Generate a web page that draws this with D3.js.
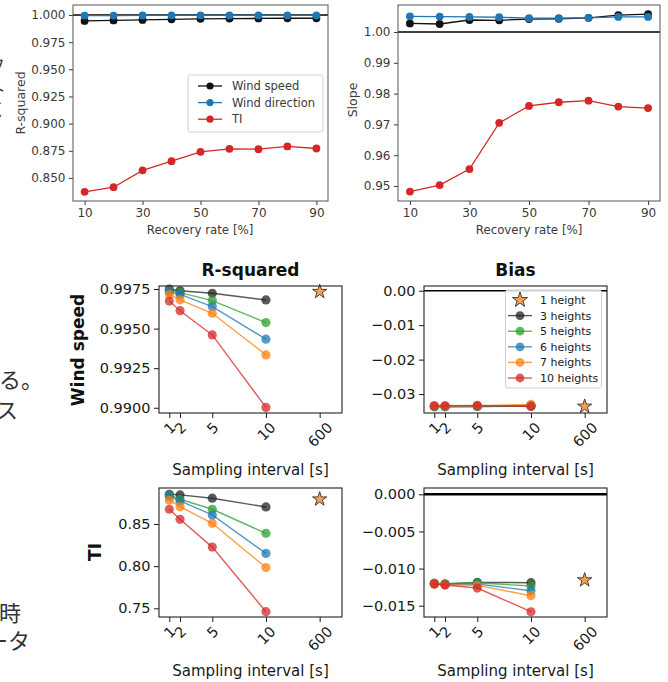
<!DOCTYPE html>
<html>
<head>
<meta charset="utf-8">
<script src="https://cdn.jsdelivr.net/npm/d3@7"></script>
<style>
  body { margin: 0; background: #fff; }
  text { font-family: "DejaVu Sans", sans-serif; }
  .jp { font-family: "Noto Sans CJK JP", sans-serif; fill: #333; }
</style>
</head>
<body>
<svg id="chart" width="668" height="682"></svg>
<script>
// ---- values ----
const recovery = [10, 20, 30, 40, 50, 60, 70, 80, 90];
const recoveryTicks = [10, 30, 50, 70, 90];

const r2WindSpeed = [0.9945, 0.9950, 0.9955, 0.9960, 0.9965, 0.9967, 0.9968, 0.9970, 0.9970];
const r2WindDir   = [0.9995, 0.9995, 0.9996, 0.9996, 0.9996, 0.9996, 0.9996, 0.9996, 0.9996];
const r2TI        = [0.8372, 0.8415, 0.8570, 0.8655, 0.8741, 0.8768, 0.8765, 0.8790, 0.8771];
const r2Ticks = [0.850, 0.875, 0.900, 0.925, 0.950, 0.975, 1.000];

const slopeWindSpeed = [1.0028, 1.0026, 1.0039, 1.0038, 1.0042, 1.0043, 1.0046, 1.0055, 1.0058];
const slopeWindDir   = [1.0051, 1.0050, 1.0049, 1.0048, 1.0045, 1.0045, 1.0046, 1.0049, 1.0049];
const slopeTI        = [0.9482, 0.9503, 0.9555, 0.9705, 0.9760, 0.9772, 0.9777, 0.9758, 0.9753];
const slopeTicks = [0.95, 0.96, 0.97, 0.98, 0.99, 1.00];

const topNames = ["Wind speed", "Wind direction", "TI"];

// sampling interval panels: 600 s is drawn at slot 15
const intervals = [1, 2, 5, 10];
const intervalTickPos = [1, 2, 5, 10, 15];
const intervalTickLabels = ["1", "2", "5", "10", "600"];
const oneHeightPos = 15;
const heightNames = ["3 heights", "5 heights", "6 heights", "7 heights", "10 heights"];

const wsR2 = [
  [0.99750, 0.99739, 0.99723, 0.99681],
  [0.99744, 0.99727, 0.99677, 0.99538],
  [0.99733, 0.99716, 0.99639, 0.99433],
  [0.99716, 0.99682, 0.99597, 0.99334],
  [0.99674, 0.99613, 0.99460, 0.99002]
];
const wsR2One = 0.99733;
const wsR2Ticks = [0.9900, 0.9925, 0.9950, 0.9975];

const wsBias = [
  [-0.0336, -0.0336, -0.0336, -0.0335],
  [-0.0337, -0.0337, -0.0336, -0.0334],
  [-0.0336, -0.0336, -0.0335, -0.0333],
  [-0.0335, -0.0335, -0.0334, -0.0330],
  [-0.0334, -0.0334, -0.0333, -0.0336]
];
const wsBiasOne = -0.0336;
const wsBiasTicks = [-0.03, -0.02, -0.01, 0.00];

const tiR2 = [
  [0.8853, 0.8845, 0.8806, 0.8702],
  [0.8841, 0.8794, 0.8675, 0.8389],
  [0.8825, 0.8774, 0.8607, 0.8151],
  [0.8782, 0.8706, 0.8508, 0.7984],
  [0.8675, 0.8556, 0.8226, 0.7460]
];
const tiR2One = 0.8794;
const tiR2Ticks = [0.75, 0.80, 0.85];

const tiBias = [
  [-0.01200, -0.01208, -0.01186, -0.01190],
  [-0.01200, -0.01204, -0.01190, -0.01235],
  [-0.01204, -0.01213, -0.01208, -0.01298],
  [-0.01208, -0.01217, -0.01226, -0.01366],
  [-0.01208, -0.01222, -0.01262, -0.01581]
];
const tiBiasOne = -0.01155;
const tiBiasTicks = [-0.015, -0.010, -0.005, 0.000];

// ---- styles ----
const topColors = ["#111", "#1f77b4", "#d62728"];
const heightColors = ["#222", "#2ca02c", "#1f77b4", "#ff7f0e", "#d62728"];
const minus = s => s.replace("-", "\u2212");

const svg = d3.select("#chart");

function makeAxes(r, xd, yd) {
  const x = d3.scaleLinear().domain(xd).range([r.l, r.r]);
  const y = d3.scaleLinear().domain(yd).range([r.b, r.t]);
  const g = svg.append("g");
  return { x, y, r, g };
}

function frame(ax, color, w) {
  ax.g.append("rect")
    .attr("x", ax.r.l).attr("y", ax.r.t)
    .attr("width", ax.r.r - ax.r.l).attr("height", ax.r.b - ax.r.t)
    .attr("fill", "none").attr("stroke", color).attr("stroke-width", w);
}

function hline(ax, v, w) {
  ax.g.append("line")
    .attr("x1", ax.r.l).attr("x2", ax.r.r)
    .attr("y1", ax.y(v)).attr("y2", ax.y(v))
    .attr("stroke", "#000").attr("stroke-width", w);
}

function series(ax, xs, ys, color, rad, lw, alpha) {
  const line = d3.line().x((d, i) => ax.x(xs[i])).y(d => ax.y(d));
  ax.g.append("path").datum(ys).attr("d", line)
    .attr("fill", "none").attr("stroke", color)
    .attr("stroke-width", lw).attr("stroke-opacity", alpha);
  ax.g.selectAll(null).data(ys).join("circle")
    .attr("cx", (d, i) => ax.x(xs[i])).attr("cy", d => ax.y(d))
    .attr("r", rad).attr("fill", color).attr("fill-opacity", alpha);
}

function star(g, cx, cy, R) {
  g.append("path")
    .attr("d", d3.symbol(d3.symbolStar, R * R / 0.8908130915292852)())
    .attr("transform", `translate(${cx},${cy})`)
    .attr("fill", "#f7a050").attr("stroke", "#333").attr("stroke-width", 0.9);
}

function yAxis(ax, ticks, fmt, fs, color, ts) {
  const a = ax.g.append("g").attr("transform", `translate(${ax.r.l},0)`)
    .call(d3.axisLeft(ax.y).tickValues(ticks).tickFormat(d => minus(fmt(d))).tickSize(ts).tickPadding(3.5));
  a.select(".domain").remove();
  a.selectAll("line").attr("stroke", color);
  a.selectAll("text").attr("font-size", fs).attr("fill", color).attr("font-family", "DejaVu Sans");
}

function xAxisTop(ax, fs, color) {
  const a = ax.g.append("g").attr("transform", `translate(0,${ax.r.b})`)
    .call(d3.axisBottom(ax.x).tickValues(recoveryTicks).tickFormat(d3.format("d")).tickSize(4).tickPadding(3.5));
  a.select(".domain").remove();
  a.selectAll("line").attr("stroke", color);
  a.selectAll("text").attr("font-size", fs).attr("fill", color).attr("font-family", "DejaVu Sans");
}

function xAxisInterval(ax, fs, color) {
  const ts = 5, pad = 3;
  const a = ax.g.append("g").attr("transform", `translate(0,${ax.r.b})`)
    .call(d3.axisBottom(ax.x).tickValues(intervalTickPos)
      .tickFormat((d, i) => intervalTickLabels[i]).tickSize(ts).tickPadding(pad));
  a.select(".domain").remove();
  a.selectAll("line").attr("stroke", color);
  a.selectAll("text").attr("font-size", fs).attr("fill", color).attr("font-family", "DejaVu Sans")
    .attr("y", 0).attr("dy", null).attr("text-anchor", "middle").attr("dominant-baseline", "central")
    .attr("transform", function () {
      const w = this.getComputedTextLength();
      const h = (w + fs * 0.75) * 0.7071;
      return `translate(0,${ts + pad + h / 2}) rotate(-45)`;
    });
}

function label(x, y, str, fs, opts = {}) {
  const t = svg.append("text").attr("x", 0).attr("y", 0)
    .attr("transform", `translate(${x},${y})` + (opts.rot ? ` rotate(${opts.rot})` : ""))
    .attr("text-anchor", opts.anchor || "middle")
    .attr("font-size", fs).attr("fill", opts.color || "#222")
    .attr("font-weight", opts.bold ? "bold" : null)
    .text(str);
  return t;
}

// ---- top row: recovery rate ----
const topText = "#3a3a3a";
const topR = 3.9;
const axR2 = makeAxes({ l: 73, r: 328, t: 5, b: 201 }, [6, 94], [0.8288, 1.0092]);
hline(axR2, 1.0, 1.6);
series(axR2, recovery, r2WindSpeed, topColors[0], topR, 1.3, 1);
series(axR2, recovery, r2WindDir, topColors[1], topR, 1.3, 1);
series(axR2, recovery, r2TI, topColors[2], topR, 1.3, 1);
yAxis(axR2, r2Ticks, d3.format(".3f"), 12, topText, 4);
xAxisTop(axR2, 12, topText);
frame(axR2, "#555", 1);
label(24.5, 103, "R-squared", 12.5, { rot: -90, color: topText });
label(200, 234, "Recovery rate [%]", 11.8, { color: topText });

// top legend
{
  const lg = axR2.g.append("g");
  lg.append("rect").attr("x", 188).attr("y", 75).attr("width", 135).attr("height", 57)
    .attr("rx", 2.5).attr("fill", "#fff").attr("fill-opacity", 0.8).attr("stroke", "#d0d0d0");
  topNames.forEach((n, i) => {
    const yy = 86 + i * 16.6;
    lg.append("line").attr("x1", 198).attr("x2", 222).attr("y1", yy).attr("y2", yy)
      .attr("stroke", topColors[i]).attr("stroke-width", 1.3);
    lg.append("circle").attr("cx", 210).attr("cy", yy).attr("r", 3.6).attr("fill", topColors[i]);
    lg.append("text").attr("x", 232).attr("y", yy + 4.2).attr("font-size", 11.5)
      .attr("fill", topText).text(n);
  });
}

const axSl = makeAxes({ l: 398, r: 660, t: 5, b: 201 }, [6, 94], [0.94513, 1.00877]);
hline(axSl, 1.0, 1.6);
series(axSl, recovery, slopeWindSpeed, topColors[0], topR, 1.3, 1);
series(axSl, recovery, slopeWindDir, topColors[1], topR, 1.3, 1);
series(axSl, recovery, slopeTI, topColors[2], topR, 1.3, 1);
yAxis(axSl, slopeTicks, d3.format(".2f"), 12, topText, 4);
xAxisTop(axSl, 12, topText);
frame(axSl, "#555", 1);
label(357, 100, "Slope", 12.5, { rot: -90, color: topText });
label(529, 234, "Recovery rate [%]", 11.8, { color: topText });

// ---- bottom grid: sampling interval ----
const xInt = [0.04, 17.08];
const botText = "#1a1a1a";
function intervalPanel(rect, yd, data, one, ticks, fmt, zeroLine) {
  const ax = makeAxes(rect, xInt, yd);
  if (zeroLine) hline(ax, 0, zeroLine);
  data.forEach((ys, k) => series(ax, intervals, ys, heightColors[k], 4.6, 1.4, 0.75));
  star(ax.g, ax.x(oneHeightPos), ax.y(one), 7.5);
  yAxis(ax, ticks, fmt, 14.5, botText, 5);
  xAxisInterval(ax, 14.5, botText);
  frame(ax, "#222", 1.1);
  return ax;
}

const axWsR2 = intervalPanel({ l: 159, r: 342, t: 286, b: 413 }, [0.98967, 0.99769],
  wsR2, wsR2One, wsR2Ticks, d3.format(".4f"), 0);
const axWsB = intervalPanel({ l: 424, r: 607, t: 286, b: 413 }, [-0.0355, 0.00137],
  wsBias, wsBiasOne, wsBiasTicks, d3.format(".2f"), 1.6);
const axTiR2 = intervalPanel({ l: 159, r: 342, t: 488, b: 617 }, [0.7397, 0.8927],
  tiR2, tiR2One, tiR2Ticks, d3.format(".2f"), 0);
const axTiB = intervalPanel({ l: 424, r: 607, t: 488, b: 617 }, [-0.01652, 0.00085],
  tiBias, tiBiasOne, tiBiasTicks, d3.format(".3f"), 2.6);

label(250.5, 276, "R-squared", 17, { bold: true, color: "#111" });
label(515.5, 276, "Bias", 17, { bold: true, color: "#111" });
label(84, 350, "Wind speed", 17, { bold: true, rot: -90, color: "#111" });
label(101, 552, "TI", 17, { bold: true, rot: -90, color: "#111" });
label(250.5, 474.5, "Sampling interval [s]", 15, { color: botText });
label(515.5, 474.5, "Sampling interval [s]", 15, { color: botText });
label(250.5, 675.5, "Sampling interval [s]", 15, { color: botText });
label(515.5, 675.5, "Sampling interval [s]", 15, { color: botText });

// bottom legend
{
  const lg = axWsB.g.append("g");
  lg.append("rect").attr("x", 505.5).attr("y", 290).attr("width", 96).attr("height", 98)
    .attr("rx", 2.5).attr("fill", "#fff").attr("fill-opacity", 0.8).attr("stroke", "#d0d0d0");
  star(lg, 520, 300, 8);
  lg.append("text").attr("x", 540).attr("y", 304).attr("font-size", 11).attr("fill", botText).text("1 height");
  heightNames.forEach((n, k) => {
    const yy = 315.6 + k * 15.6;
    lg.append("line").attr("x1", 508).attr("x2", 532).attr("y1", yy).attr("y2", yy)
      .attr("stroke", heightColors[k]).attr("stroke-width", 1.4).attr("stroke-opacity", 0.75);
    lg.append("circle").attr("cx", 520).attr("cy", yy).attr("r", 4.4)
      .attr("fill", heightColors[k]).attr("fill-opacity", 0.75);
    lg.append("text").attr("x", 540).attr("y", yy + 4).attr("font-size", 11).attr("fill", botText).text(n);
  });
}

// ---- page text cut off at the left edge ----
const jp = (x, y, s, fs) => svg.append("text").attr("class", "jp").attr("x", x).attr("y", y)
  .attr("font-size", fs).text(s);
jp(-1, 388, "る。", 22);
jp(-4, 418, "ス", 22);
jp(-1, 621, "時", 22);
jp(-14, 649, "ータ", 22);
jp(-12, 72, "フ", 17);
jp(-11, 96, "ト", 17);
jp(-11, 116, "く", 17);
</script>
</body>
</html>
